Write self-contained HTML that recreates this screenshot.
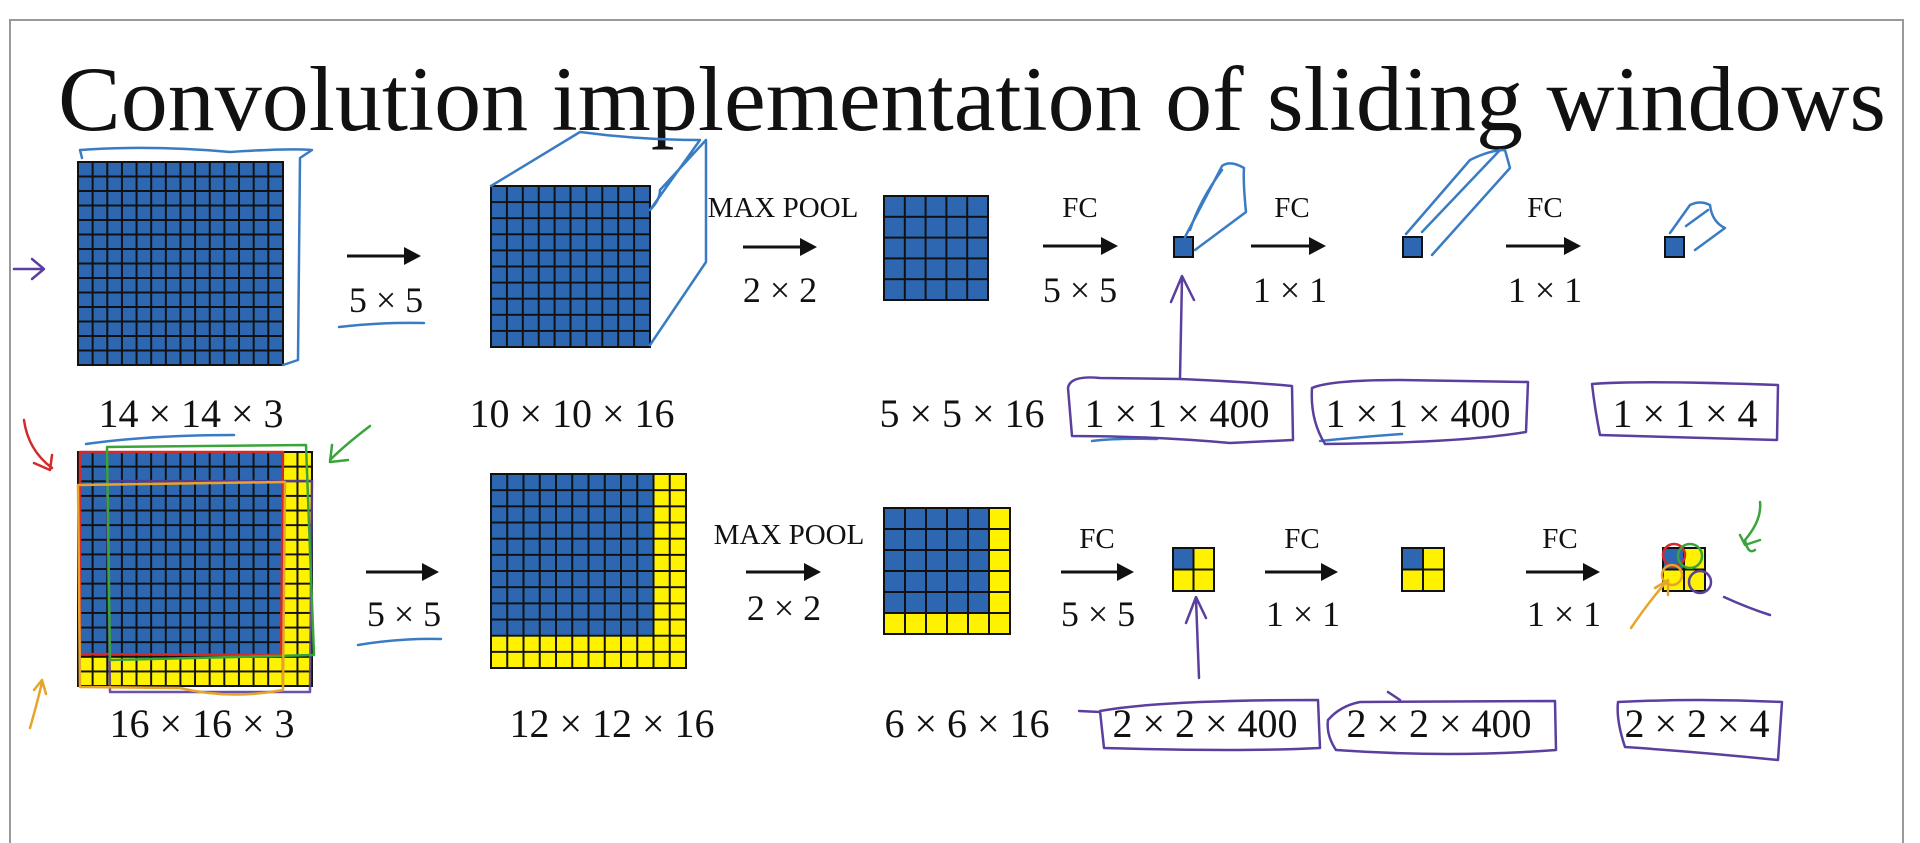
<!DOCTYPE html>
<html><head><meta charset="utf-8"><style>
html,body{margin:0;padding:0;background:#fff;}
svg{display:block;}
text{font-family:"Liberation Serif",serif;fill:#111;}
</style></head><body>
<svg width="1920" height="843" viewBox="0 0 1920 843" xmlns="http://www.w3.org/2000/svg">
<defs>
<pattern id="g1" patternUnits="userSpaceOnUse" x="78" y="162" width="14.64" height="14.5"><path d="M0 0V14.5M14.64 0V14.5M0 0H14.64M0 14.5H14.64" stroke="#111" stroke-width="2" fill="none"/></pattern>
<pattern id="g2" patternUnits="userSpaceOnUse" x="491" y="186" width="15.9" height="16.1"><path d="M0 0V16.1M15.9 0V16.1M0 0H15.9M0 16.1H15.9" stroke="#111" stroke-width="2" fill="none"/></pattern>
<pattern id="g3" patternUnits="userSpaceOnUse" x="884" y="196" width="20.8" height="20.8"><path d="M0 0V20.8M20.8 0V20.8M0 0H20.8M0 20.8H20.8" stroke="#111" stroke-width="2" fill="none"/></pattern>
<pattern id="g4" patternUnits="userSpaceOnUse" x="78" y="452" width="14.63" height="14.63"><path d="M0 0V14.63M14.63 0V14.63M0 0H14.63M0 14.63H14.63" stroke="#111" stroke-width="2" fill="none"/></pattern>
<pattern id="g5" patternUnits="userSpaceOnUse" x="491" y="474" width="16.25" height="16.17"><path d="M0 0V16.17M16.25 0V16.17M0 0H16.25M0 16.17H16.25" stroke="#111" stroke-width="2" fill="none"/></pattern>
<pattern id="g6" patternUnits="userSpaceOnUse" x="884" y="508" width="21" height="21"><path d="M0 0V21M21 0V21M0 0H21M0 21H21" stroke="#111" stroke-width="2" fill="none"/></pattern>
<marker id="ah" markerWidth="10" markerHeight="10" refX="8" refY="5" orient="auto" markerUnits="userSpaceOnUse"><path d="M0 0L0 0" /></marker>
</defs>
<!-- frame -->
<rect x="10" y="20" width="1893" height="840" fill="none" stroke="#999" stroke-width="2"/>
<text x="58" y="130" font-size="92" textLength="1828" lengthAdjust="spacingAndGlyphs">Convolution implementation of sliding windows</text>

<!-- row 1 grids -->
<rect x="78" y="162" width="205" height="203" fill="#2e67b1"/><rect x="78" y="162" width="205" height="203" fill="url(#g1)" stroke="#111" stroke-width="2"/>
<rect x="491" y="186" width="159" height="161" fill="#2e67b1"/><rect x="491" y="186" width="159" height="161" fill="url(#g2)" stroke="#111" stroke-width="2"/>
<rect x="884" y="196" width="104" height="104" fill="#2e67b1"/><rect x="884" y="196" width="104" height="104" fill="url(#g3)" stroke="#111" stroke-width="2"/>
<rect x="1174" y="237" width="19" height="20" fill="#2e67b1" stroke="#111" stroke-width="2"/>
<rect x="1403" y="237" width="19" height="20" fill="#2e67b1" stroke="#111" stroke-width="2"/>
<rect x="1665" y="237" width="19" height="20" fill="#2e67b1" stroke="#111" stroke-width="2"/>

<!-- arrows row 1 -->
<g stroke="#111" stroke-width="3">
<line x1="347" y1="256" x2="408" y2="256"/><line x1="743" y1="247" x2="804" y2="247"/>
<line x1="1043" y1="246" x2="1105" y2="246"/><line x1="1251" y1="246" x2="1313" y2="246"/><line x1="1506" y1="246" x2="1568" y2="246"/>
<line x1="366" y1="572" x2="426" y2="572"/><line x1="746" y1="572" x2="808" y2="572"/>
<line x1="1061" y1="572" x2="1121" y2="572"/><line x1="1265" y1="572" x2="1325" y2="572"/><line x1="1526" y1="572" x2="1587" y2="572"/>
</g>
<g fill="#111">
<path d="M404 247L421 256L404 265Z"/><path d="M800 238L817 247L800 256Z"/>
<path d="M1101 237L1118 246L1101 255Z"/><path d="M1309 237L1326 246L1309 255Z"/><path d="M1564 237L1581 246L1564 255Z"/>
<path d="M422 563L439 572L422 581Z"/><path d="M804 563L821 572L804 581Z"/>
<path d="M1117 563L1134 572L1117 581Z"/><path d="M1321 563L1338 572L1321 581Z"/><path d="M1583 563L1600 572L1583 581Z"/>
</g>

<g font-size="36" text-anchor="middle">
<text x="386" y="312">5 × 5</text>
<text x="780" y="302">2 × 2</text>
<text x="1080" y="302">5 × 5</text>
<text x="1290" y="302">1 × 1</text>
<text x="1545" y="302">1 × 1</text>
<text x="404" y="626">5 × 5</text>
<text x="784" y="620">2 × 2</text>
<text x="1098" y="626">5 × 5</text>
<text x="1303" y="626">1 × 1</text>
<text x="1564" y="626">1 × 1</text>
</g>
<g font-size="29" text-anchor="middle">
<text x="783" y="217">MAX POOL</text>
<text x="789" y="544">MAX POOL</text>
<text x="1080" y="217">FC</text>
<text x="1292" y="217">FC</text>
<text x="1545" y="217">FC</text>
<text x="1097" y="548">FC</text>
<text x="1302" y="548">FC</text>
<text x="1560" y="548">FC</text>
</g>

<g font-size="40" text-anchor="middle">
<text x="191" y="427">14 × 14 × 3</text>
<text x="572" y="427">10 × 10 × 16</text>
<text x="962" y="427">5 × 5 × 16</text>
<text x="1177" y="427">1 × 1 × 400</text>
<text x="1418" y="427">1 × 1 × 400</text>
<text x="1685" y="427">1 × 1 × 4</text>
<text x="202" y="737">16 × 16 × 3</text>
<text x="612" y="737">12 × 12 × 16</text>
<text x="967" y="737">6 × 6 × 16</text>
<text x="1205" y="737">2 × 2 × 400</text>
<text x="1439" y="737">2 × 2 × 400</text>
<text x="1697" y="737">2 × 2 × 4</text>
</g>

<!-- row 2 grids -->
<rect x="78" y="452" width="234" height="234" fill="#fff200"/>
<rect x="78" y="452" width="205" height="205" fill="#2e67b1"/>
<rect x="78" y="452" width="234" height="234" fill="url(#g4)" stroke="#111" stroke-width="2"/>
<rect x="491" y="474" width="195" height="194" fill="#fff200"/>
<rect x="491" y="474" width="162.5" height="161.7" fill="#2e67b1"/>
<rect x="491" y="474" width="195" height="194" fill="url(#g5)" stroke="#111" stroke-width="2"/>
<rect x="884" y="508" width="126" height="126" fill="#fff200"/>
<rect x="884" y="508" width="105" height="105" fill="#2e67b1"/>
<rect x="884" y="508" width="126" height="126" fill="url(#g6)" stroke="#111" stroke-width="2"/>
<g stroke="#111" stroke-width="2">
<rect x="1173" y="548" width="41" height="43" fill="#fff200"/><rect x="1173" y="548" width="20.5" height="21.5" fill="#2e67b1"/><path d="M1193.5 548V591M1173 569.5H1214" fill="none"/>
<rect x="1402" y="548" width="42" height="43" fill="#fff200"/><rect x="1402" y="548" width="21" height="21.5" fill="#2e67b1"/><path d="M1423 548V591M1402 569.5H1444" fill="none"/>
<rect x="1663" y="548" width="42" height="43" fill="#fff200"/><rect x="1663" y="548" width="21" height="21.5" fill="#2e67b1"/><path d="M1684 548V591M1663 569.5H1705" fill="none"/>
</g>

<!-- hand annotations -->
<g fill="none" stroke-width="2.5" stroke-linecap="round" stroke-linejoin="round">
<!-- blue -->
<g stroke="#3a7cc4">
<path d="M82 158 L80 150 Q150 145 230 152 Q290 148 312 150 L300 158 L298 360 L283 365"/>
<path d="M339 327 Q380 322 424 323"/>
<path d="M491 186 L580 132 Q640 140 700 140 L660 196 L650 210 Q660 200 660 190 L706 140 L706 262 L650 345"/>
<path d="M358 645 Q400 638 441 639"/>
<path d="M1185 237 L1220 170 L1222 166 Q1230 160 1244 168 Q1243 182 1246 212 L1195 250 M1190 230 Q1200 200 1222 170"/>
<path d="M1406 234 L1470 160 Q1490 150 1505 150 L1510 168 L1432 255 M1422 232 L1500 150"/>
<path d="M1670 233 L1690 205 Q1700 200 1710 205 Q1712 222 1725 228 L1695 250 M1686 226 L1708 210"/>
<path d="M1092 441 Q1115 438 1157 439"/>
<path d="M1320 441 Q1360 437 1402 434"/>
<path d="M86 444 Q150 435 234 435"/>
</g>
<!-- purple -->
<g stroke="#5b3f9e">
<path d="M14 269 L42 269 M32 259 L44 269 L32 279"/>
<path d="M1068 388 Q1070 375 1100 378 L1180 379 Q1250 382 1292 386 L1293 440 L1230 443 Q1150 436 1072 436 Z"/>
<path d="M1312 388 Q1330 380 1400 380 Q1480 381 1528 382 L1526 432 Q1460 443 1325 444 Q1310 420 1312 388"/>
<path d="M1592 384 Q1640 380 1778 385 L1777 440 Q1700 438 1600 435 Q1595 410 1592 384"/>
<path d="M1180 378 L1182 278 M1171 302 L1182 276 L1194 300"/>
<path d="M1100 711 Q1160 700 1318 700 L1320 748 Q1240 752 1104 748 Z M1079 711 L1100 712"/>
<path d="M1328 720 Q1340 706 1360 702 L1555 701 L1556 750 Q1450 758 1336 750 Q1326 735 1328 720 M1400 700 L1388 692"/>
<path d="M1618 702 Q1700 698 1782 702 L1778 760 Q1700 752 1625 747 Q1616 720 1618 702"/>
<path d="M1199 678 L1196 599 M1186 623 L1196 597 L1206 618"/>
<path d="M1724 597 Q1748 608 1770 615"/>
<path d="M107 481 L312 481 L310 692 L110 692 Z" opacity="0.9"/>
<circle cx="1700" cy="582" r="11"/>
</g>
<!-- red -->
<g stroke="#d32a2a">
<path d="M80 452 L283 452 L281 655 L80 654 Z"/>
<path d="M24 420 Q28 450 52 468 M34 463 L50 470 L52 455"/>
<circle cx="1674" cy="555" r="11"/>
</g>
<!-- green -->
<g stroke="#3aa43a">
<path d="M107 447 L306 445 L314 655 L110 660 Z"/>
<path d="M370 426 Q345 445 330 460 M332 445 L330 462 L348 460"/>
<circle cx="1690" cy="556" r="12"/>
<path d="M1760 502 Q1762 520 1745 540 Q1748 555 1755 550 M1740 535 L1745 545 L1760 540"/>
</g>
<!-- orange -->
<g stroke="#e6a52a">
<path d="M78 485 L285 482 L283 690 Q230 700 180 688 L80 687 Z"/>
<path d="M30 728 Q38 700 42 682 M34 690 L42 680 L46 694"/>
<circle cx="1672" cy="575" r="10"/>
<path d="M1631 628 Q1650 600 1668 580 M1655 588 L1668 580 L1668 595"/>
</g>
</g>
</svg>
</body></html>
